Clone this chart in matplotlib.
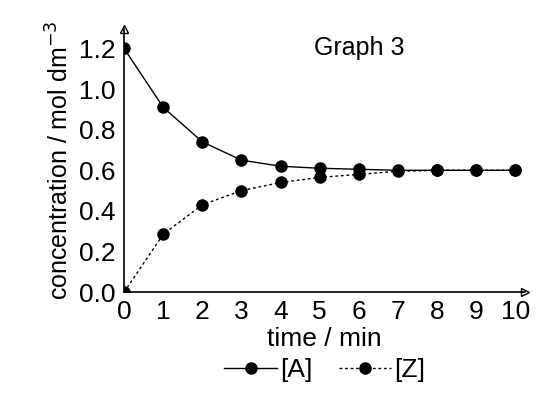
import numpy as np
import matplotlib.pyplot as plt

plt.rcParams['font.family'] = ['Liberation Sans', 'DejaVu Sans']

time = [0, 1, 2, 3, 4, 5, 6, 7, 8, 9, 10]
conc_A = [1.2, 0.91, 0.74, 0.65, 0.62, 0.61, 0.605, 0.6, 0.6, 0.6, 0.6]
conc_Z = [0.0, 0.285, 0.43, 0.5, 0.54, 0.565, 0.58, 0.595, 0.6, 0.6, 0.6]

fig = plt.figure(figsize=(5.59, 4.08), dpi=100)
ax = fig.add_axes([0.222, 0.284, 0.718, 0.646])

ax.plot(time, conc_A, '-', color='black', linewidth=1, marker='o', markersize=8, label='[A]')
ax.plot(time, conc_Z, '--', dashes=(2, 2), color='black', linewidth=1, marker='o', markersize=8, label='[Z]')

ax.set_xlim(0, 10.26)
ax.set_ylim(0, 1.298)
ax.set_xticks(time)
ax.set_yticks(np.arange(0, 1.3, 0.2))
ax.set_yticklabels(['%.1f' % v for v in np.arange(0, 1.3, 0.2)])
ax.tick_params(axis='both', labelsize=19, length=0, pad=6)
for s in ['top', 'right']:
    ax.spines[s].set_visible(False)
for s in ['left', 'bottom']:
    ax.spines[s].set_linewidth(1.2)
# axis arrows
ax.plot(1, 0, '>', color='black', mfc='white', markersize=6, transform=ax.transAxes, clip_on=False)
ax.plot(0, 1, '^', color='black', mfc='white', markersize=6, transform=ax.transAxes, clip_on=False)

ax.set_xlabel('time / min', fontsize=19, labelpad=2)
ax.set_ylabel('concentration / mol dm$^{-3}$', fontsize=18, labelpad=4)
ax.text(6.0, 1.2, 'Graph 3', fontsize=18, ha='center', va='center')

ax.legend(loc='upper center', bbox_to_anchor=(0.5, -0.25), ncols=2, frameon=False,
          fontsize=19, handlelength=2.0, handletextpad=0.1, columnspacing=1.0,
          borderaxespad=0, borderpad=0)

fig.savefig('out.png', dpi=100)
